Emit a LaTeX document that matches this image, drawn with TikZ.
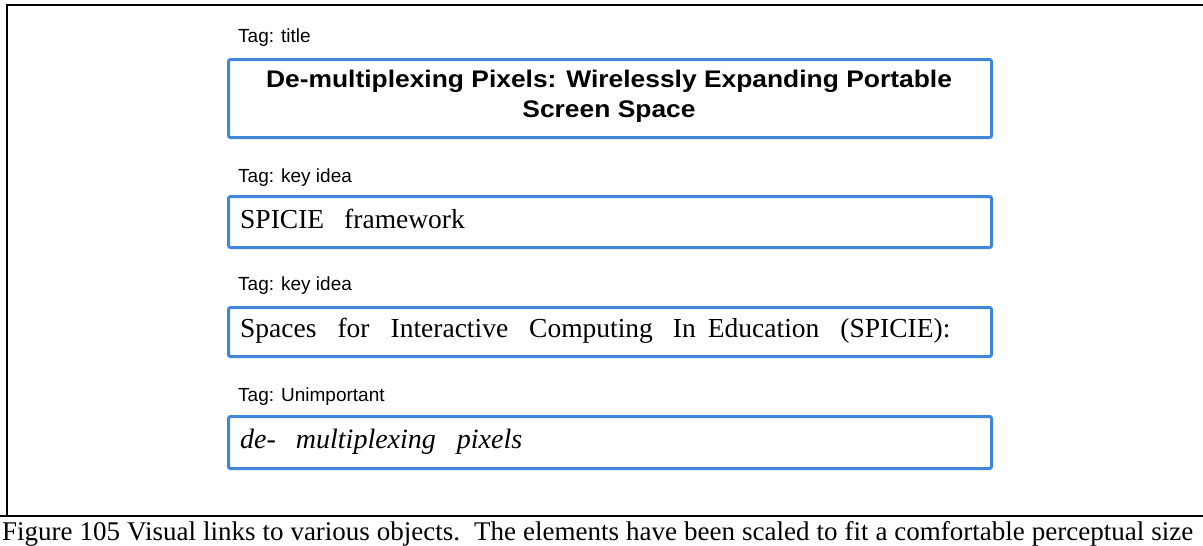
\documentclass[tikz,border=0pt]{standalone}
\usepackage{fontspec}
\setmainfont{Liberation Serif}
\newfontfamily\tagfont{Liberation Sans}
\usepackage{graphicx}
\definecolor{boxblue}{HTML}{3F87DA}
\begin{document}
\begin{tikzpicture}[x=1pt,y=-1pt,
  tagbox/.style={draw=boxblue, line width=3pt, rounded corners=2pt, anchor=north west, inner sep=0pt},
  taglabel/.style={anchor=base west, inner sep=0pt, font=\tagfont\fontsize{19}{23}\selectfont},
  boxtext/.style={anchor=base west, inner sep=0pt, font=\fontsize{27.5}{33}\selectfont},
  titletext/.style={anchor=base, inner sep=0pt, font=\tagfont\bfseries\fontsize{24}{30}\selectfont},
  frameline/.style={line width=2pt, black}]
\useasboundingbox (0,0) rectangle (1203,546);
% outer frame
\coordinate (tl) at (7,5);
\coordinate (tr) at (1203,5);
\coordinate (bl) at (7,516);
\coordinate (bl0) at (0,516);
\coordinate (br) at (1203,516);
\draw[frameline] (tr) -- (tl) -- (bl);
\draw[frameline] (bl0) -- (br);
% boxes
\node[tagbox, minimum width=763pt, minimum height=78pt] (b1) at (227,58) {};
\node[tagbox, minimum width=763pt, minimum height=51pt] (b2) at (227,195) {};
\node[tagbox, minimum width=763pt, minimum height=49pt] (b3) at (227,306) {};
\node[tagbox, minimum width=763pt, minimum height=52pt] (b4) at (227,415) {};
% tag labels
\node[taglabel] (t1) at (238,42) {Tag: title};
\node[taglabel] (t2) at (238,182) {Tag: key idea};
\node[taglabel] (t3) at (238,290) {Tag: key idea};
\node[taglabel] (t4) at (238,401) {Tag: Unimportant};
% title
\node[titletext] (ti1) at (609,87) {\scalebox{1.1}[1]{De-multiplexing Pixels: Wirelessly Expanding Portable}};
\node[titletext] (ti2) at (609,117) {\scalebox{1.1}[1]{Screen Space}};
% box texts
\node[boxtext] (x2) at (240,228) {SPICIE\hspace{20pt}framework};
\node[boxtext] (x3) at (240,337) {Spaces\hspace{21pt}for\hspace{21pt}Interactive\hspace{21pt}Computing\hspace{20pt}In\hspace{12pt}Education\hspace{21pt}(SPICIE):};
\node[boxtext, font=\itshape\fontsize{28}{33}\selectfont] (x4) at (240,448) {de-\hspace{20pt}multiplexing\hspace{21pt}pixels};
% caption
\node[anchor=base west, inner sep=0pt, font=\fontsize{27}{30}\selectfont] (cap) at (2,540) {\makebox[1191pt][s]{Figure 105 Visual links to various objects.\ \ The elements have been scaled to fit a comfortable perceptual size}};
\end{tikzpicture}
\end{document}
